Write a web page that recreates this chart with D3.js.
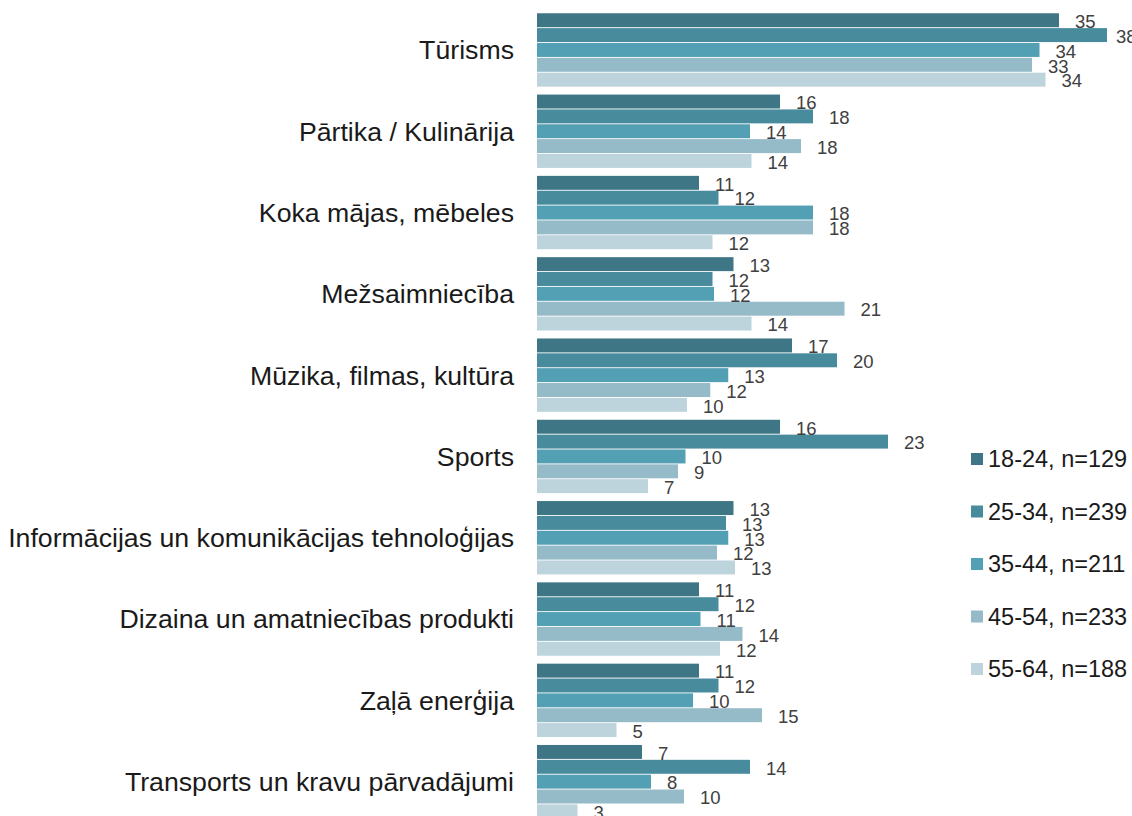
<!DOCTYPE html>
<html>
<head>
<meta charset="utf-8">
<script src="https://cdn.jsdelivr.net/npm/d3@7"></script>
<style>
  html, body { margin: 0; padding: 0; background: #ffffff; }
  svg { display: block; font-family: "Liberation Sans", Arial, Helvetica, sans-serif; }
</style>
</head>
<body>
<svg id="chart" width="1132" height="816"></svg>
<script>
const categories = [
  "Tūrisms",
  "Pārtika / Kulinārija",
  "Koka mājas, mēbeles",
  "Mežsaimniecība",
  "Mūzika, filmas, kultūra",
  "Sports",
  "Informācijas un komunikācijas tehnoloģijas",
  "Dizaina un amatniecības produkti",
  "Zaļā enerģija",
  "Transports un kravu pārvadājumi"
];
const seriesNames = ["18-24, n=129", "25-34, n=239", "35-44, n=211", "45-54, n=233", "55-64, n=188"];
const age18_24 = [34.8, 16.2, 10.8, 13.1, 17.0, 16.2, 13.1, 10.8, 10.8, 7.0];
const age25_34 = [38.0, 18.4, 12.1, 11.7, 20.0, 23.4, 12.6, 12.1, 12.1, 14.2];
const age35_44 = [33.5, 14.2, 18.4, 11.8, 12.75, 9.9, 12.75, 10.9, 10.4, 7.6];
const age45_54 = [33.0, 17.6, 18.4, 20.5, 11.55, 9.4, 12.0, 13.7, 15.0, 9.8];
const age55_64 = [33.9, 14.3, 11.7, 14.3, 10.0, 7.4, 13.2, 12.2, 5.3, 2.7];
const seriesValues = [age18_24, age25_34, age35_44, age45_54, age55_64];
const colors = ["#3e7686", "#488b9d", "#539fb3", "#95bac8", "#bdd4dc"];

const svg = d3.select("#chart");

const y = d3.scaleBand()
  .domain(categories)
  .range([9.3, 822.3])
  .paddingInner(0.0975)
  .paddingOuter(0.0487);

const ySub = d3.scaleBand()
  .domain(d3.range(seriesNames.length))
  .range([0, y.bandwidth()])
  .paddingInner(0.06);

const x = d3.scaleLinear().domain([0, 40]).range([537, 1137]);

// category labels
const yAxis = d3.axisLeft(y).tickSize(0).tickPadding(0);
const gy = svg.append("g").attr("transform", "translate(514,0)").call(yAxis);
gy.select(".domain").remove();
gy.selectAll("text")
  .attr("font-size", "26.7px")
  .attr("font-family", "Liberation Sans, Arial, sans-serif")
  .attr("fill", "#1a1a1a")
  .attr("dy", "0.35em");

const rows = [];
categories.forEach((c, i) => {
  seriesValues.forEach((vals, s) => rows.push({ cat: c, s: s, v: vals[i] }));
});

const g = svg.append("g");
g.selectAll("rect")
  .data(rows)
  .join("rect")
  .attr("x", x(0))
  .attr("y", d => y(d.cat) + ySub(d.s))
  .attr("width", d => x(d.v) - x(0))
  .attr("height", ySub.bandwidth())
  .attr("fill", d => colors[d.s]);

g.selectAll("text.val")
  .data(rows)
  .join("text")
  .attr("class", "val")
  .attr("x", d => Math.min(x(d.v) + 16, 1116))
  .attr("y", d => y(d.cat) + ySub(d.s) + ySub.bandwidth() / 2)
  .attr("dy", "0.42em")
  .attr("font-size", "18.5px")
  .attr("fill", "#404040")
  .text(d => Math.round(d.v));

// legend
const legY = d3.scalePoint().domain(seriesNames).range([459, 669]);
const leg = svg.append("g");
leg.selectAll("rect")
  .data(seriesNames)
  .join("rect")
  .attr("x", 971)
  .attr("y", d => legY(d) - 6)
  .attr("width", 12)
  .attr("height", 12)
  .attr("fill", (d, i) => colors[i]);
leg.selectAll("text")
  .data(seriesNames)
  .join("text")
  .attr("x", 988)
  .attr("y", d => legY(d))
  .attr("dy", "0.36em")
  .attr("font-size", "23.5px")
  .attr("fill", "#1a1a1a")
  .text(d => d);
</script>
</body>
</html>
